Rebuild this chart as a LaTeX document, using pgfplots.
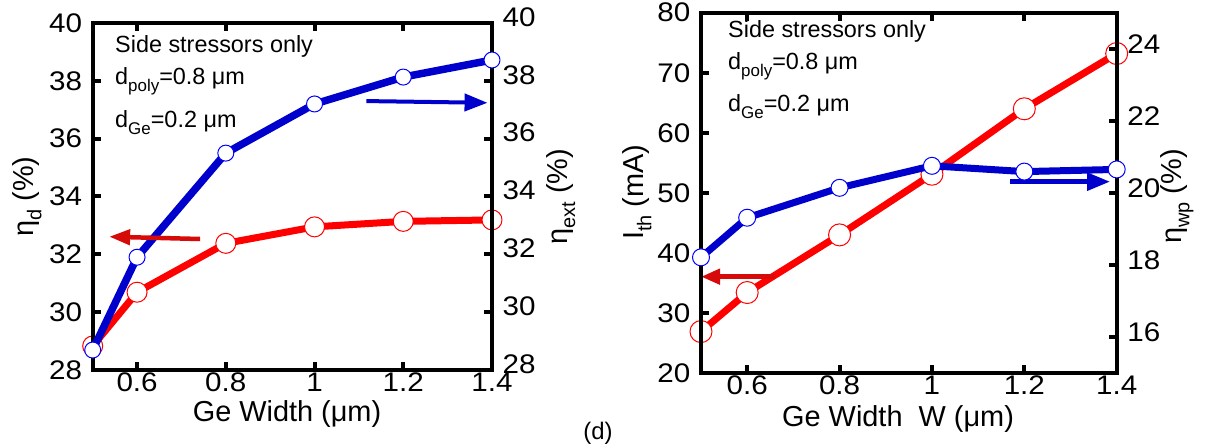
\documentclass[border=0pt]{standalone}
\usepackage{pgfplots}
\pgfplotsset{compat=1.18}
\usepackage{fontspec}
\setmainfont{Liberation Sans}
\usetikzlibrary{arrows.meta}
\definecolor{lred}{RGB}{255,0,0}
\definecolor{lblue}{RGB}{0,0,205}
\definecolor{mblue}{RGB}{0,0,255}
\definecolor{ared}{RGB}{215,10,10}
\newcommand{\subA}[1]{\raisebox{-7bp}{\fontsize{17}{17}\selectfont #1}}
\newcommand{\subL}[1]{\raisebox{-8bp}{\fontsize{20}{20}\selectfont #1}}
\pgfplotsset{
  panel/.style={
    scale only axis, anchor=south west, xmin=0.5, xmax=1.4,
    xtick={0.6,0.8,1,1.2,1.4},
    axis line style={line width=4bp},
    tick align=inside, major tick length=8bp,
    every tick/.append style={line width=4bp, black},
    tick label style={font=\fontsize{27}{30}\selectfont, xscale=1.1, inner sep=1.5bp},
    xticklabel style={yshift=-1.5bp},
    label style={font=\fontsize{29}{32}\selectfont},
    /pgf/number format/assume math mode=true,
    clip=false,
  },
  redline/.style={color=lred, line width=7bp, line join=round, mark=*, mark size=#1,
    mark options={fill=white, draw=lred, line width=1bp}},
  blueline/.style={color=lblue, line width=7.5bp, line join=round, mark=*, mark size=#1,
    mark options={fill=white, draw=mblue, line width=1bp}},
}
\begin{document}
\begin{tikzpicture}
\useasboundingbox (0,0) rectangle (1210bp,448bp);
% ---------------- left panel ----------------
\begin{axis}[panel, at={(92.7bp,78bp)}, width=399.3bp, height=347bp,
  ymin=28, ymax=40, ytick={28,30,...,40}, ytick pos=left,
  yticklabel style={xshift=-8bp},
  xlabel={Ge Width (μm)}, ylabel={η\subL{d} (\%)},
  xlabel style={at={(axis description cs:0.4866,-0.127)}, anchor=center},
  ylabel style={at={(axis description cs:-0.1645,0.5)}, anchor=center}]
\addplot[redline=10bp] coordinates {(0.5,28.83) (0.6,30.69) (0.8,32.38) (1.0,32.95) (1.2,33.14) (1.4,33.19)};
\end{axis}
\begin{axis}[panel, at={(92.7bp,78bp)}, width=399.3bp, height=347bp,
  hide x axis, ymin=28, ymax=40, ytick={28,30,...,40}, ytick pos=right, yticklabel pos=right,
  yticklabel style={yshift=6bp, xshift=8bp},
  ylabel={η\subL{ext} (\%)},
  ylabel style={at={(axis description cs:1.172,0.5)}, anchor=center}]
\addplot[blueline=8bp] coordinates {(0.5,28.69) (0.6,31.9) (0.8,35.5) (1.0,37.2) (1.2,38.13) (1.4,38.72)};
\draw[ared, line width=4.5bp, -{Triangle[length=21bp,width=15bp]}] (axis cs:0.742,32.53) -- (axis cs:0.537,32.61);
\draw[lblue, line width=4bp, -{Triangle[length=23bp,width=17bp]}] (axis cs:1.117,37.3) -- (axis cs:1.39,37.24);
\end{axis}
% ---------------- right panel ----------------
\begin{axis}[panel, at={(701bp,75bp)}, width=415.7bp, height=360.3bp,
  ymin=20, ymax=80, ytick={20,30,...,80}, ytick pos=left,
  yticklabel style={xshift=-8bp},
  xlabel={Ge Width\ \ W (μm)}, ylabel={I\subL{th} (mA)},
  xlabel style={at={(axis description cs:0.474,-0.128)}, anchor=center},
  ylabel style={at={(axis description cs:-0.154,0.502)}, anchor=center}]
\addplot[redline=11bp] coordinates {(0.5,26.9) (0.6,33.4) (0.8,43.0) (1.0,53.1) (1.2,64.0) (1.4,73.2)};
\draw[ared, line width=4.5bp, -{Triangle[length=19bp,width=15bp]}] (axis cs:0.66,36.04) -- (axis cs:0.5,36.04);
\end{axis}
\begin{axis}[panel, at={(701bp,75bp)}, width=415.7bp, height=360.3bp,
  hide x axis, ymin=15, ymax=25, ytick={16,18,...,24}, ytick pos=right, yticklabel pos=right,
  yticklabel style={yshift=5bp, xshift=8bp},
  ylabel={η\subL{wp} (\%)},
  ylabel style={at={(axis description cs:1.145,0.49)}, anchor=center}]
\addplot[blueline=8.5bp, line width=7bp] coordinates {(0.5,18.21) (0.6,19.31) (0.8,20.14) (1.0,20.75) (1.2,20.59) (1.4,20.65)};
\draw[lblue, line width=5bp, -{Triangle[length=23bp,width=17bp]}] (axis cs:1.169,20.31) -- (axis cs:1.386,20.31);
\end{axis}
% ---------------- annotations ----------------
\begin{scope}[every node/.style={anchor=base west, inner sep=0pt, font=\fontsize{23.5}{26}\selectfont}]
\node at (115bp,395bp) {Side stressors only};
\node at (115bp,363bp) {d\subA{poly}=0.8 μm};
\node at (115bp,320bp) {d\subA{Ge}=0.2 μm};
\node at (728bp,410bp) {Side stressors only};
\node at (728bp,378bp) {d\subA{poly}=0.8 μm};
\node at (728bp,336bp) {d\subA{Ge}=0.2 μm};
\end{scope}
\node[font=\fontsize{24}{26}\selectfont] at (598bp,15bp) {(d)};
\end{tikzpicture}
\end{document}
